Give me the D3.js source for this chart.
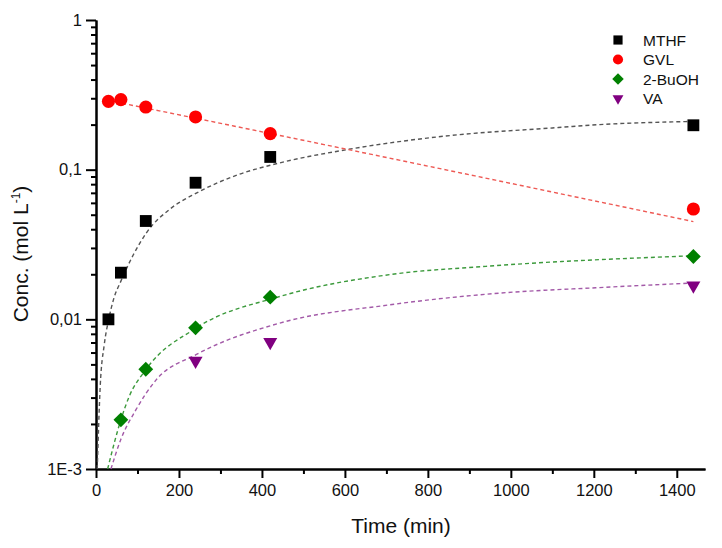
<!DOCTYPE html>
<html>
<head>
<meta charset="utf-8">
<script src="https://cdn.jsdelivr.net/npm/d3@7"></script>
<style>
  body { margin: 0; background: #fff; }
  svg { font-family: "Liberation Sans", Arial, sans-serif; }
</style>
</head>
<body>
<div id="viz"></div>
<script>
// measured points (time in min, conc in mol/L)
const mthfT = [30, 60, 120, 240, 420, 1440]
const mthfC = [0.0100, 0.0205, 0.0454, 0.0818, 0.1216, 0.198]
const gvlT = [30, 60, 120, 240, 420, 1440]
const gvlC = [0.286, 0.294, 0.262, 0.225, 0.174, 0.0546]
const buohT = [60, 120, 240, 420, 1440]
const buohC = [0.00213, 0.00464, 0.00877, 0.01407, 0.0263]
const vaT = [240, 420, 1440]
const vaC = [0.00528, 0.00704, 0.0168]

// fit curves
const mthfFitT = [3, 10, 20, 30, 42, 60, 90, 122, 180, 243, 340, 443, 604, 853, 1100, 1214, 1440]
const mthfFitC = [0.001, 0.0035, 0.0068, 0.0098, 0.0135, 0.018, 0.027, 0.038, 0.055, 0.070, 0.092, 0.111, 0.136, 0.169, 0.190, 0.200, 0.210]
const gvlFitT = [30, 371, 1440]
const gvlFitC = [0.29, 0.186, 0.045]
const buohFitT = [28, 60, 80, 120, 240, 443, 708, 940, 1440]
const buohFitC = [0.001, 0.00213, 0.00305, 0.0046, 0.0087, 0.0142, 0.0199, 0.0226, 0.0266]
const vaFitT = [36, 60, 96, 145, 241, 443, 708, 973, 1214, 1440]
const vaFitC = [0.001, 0.00158, 0.00248, 0.00394, 0.0058, 0.00944, 0.0125, 0.01497, 0.0163, 0.0175]

const legendNames = ['MTHF', 'GVL', '2-BuOH', 'VA']
const yTicks = [1e-3, 1e-2, 1e-1, 1]
const yTickLabels = ['1E-3', '0,01', '0,1', '1']
const xTicks = [0, 200, 400, 600, 800, 1000, 1200, 1400]

const width = 722, height = 548

const svg = d3.select('#viz').append('svg')
    .attr('width', width)
    .attr('height', height)

const x = d3.scaleLinear().domain([0, 1468]).range([96, 705])
const y = d3.scaleLog().domain([1e-3, 1]).range([469, 20])

// axes
const yMinor = []
for (let e = -3; e < 0; e++) for (let m = 2; m <= 9; m++) yMinor.push(m * Math.pow(10, e))
const xMinor = d3.range(100, 1468, 200)

const styleAxis = g => {
    g.select('.domain').attr('stroke', '#000').attr('stroke-width', 2)
    g.selectAll('.tick line').attr('stroke', '#000').attr('stroke-width', 2)
    g.selectAll('.tick text').attr('fill', '#111').style('font-size', '16.5px')
}

svg.append('g').attr('transform', `translate(96,0)`)
    .call(d3.axisLeft(y).tickValues(yMinor).tickSize(5).tickFormat('').tickSizeOuter(0))
    .call(styleAxis)
svg.append('g').attr('transform', `translate(96,0)`)
    .call(d3.axisLeft(y).tickValues(yTicks).tickSize(10).tickPadding(4).tickSizeOuter(0)
        .tickFormat((d, i) => yTickLabels[i]))
    .call(styleAxis)

svg.append('g').attr('transform', `translate(0,469)`)
    .call(d3.axisBottom(x).tickValues(xMinor).tickSize(5).tickFormat('').tickSizeOuter(0))
    .call(styleAxis)
svg.append('g').attr('transform', `translate(0,469)`)
    .call(d3.axisBottom(x).tickValues(xTicks).tickSize(9).tickPadding(6).tickSizeOuter(0)
        .tickFormat(d3.format('d')))
    .call(styleAxis)

// axis titles
svg.append('text')
    .attr('x', 401).attr('y', 533)
    .attr('text-anchor', 'middle')
    .attr('fill', '#111')
    .style('font-size', '21px')
    .text('Time (min)')

const yt = svg.append('text')
    .attr('transform', 'translate(28,254) rotate(-90)')
    .attr('text-anchor', 'middle')
    .attr('fill', '#111')
    .style('font-size', '21px')
yt.append('tspan').text('Conc. (mol L')
yt.append('tspan').attr('dy', -8).style('font-size', '12px').text('-1')
yt.append('tspan').attr('dy', 8).text(')')

// fit lines
const fits = [
    {t: mthfFitT, c: mthfFitC, color: '#555555'},
    {t: gvlFitT, c: gvlFitC, color: '#ee5a55'},
    {t: buohFitT, c: buohFitC, color: '#3c9a3c'},
    {t: vaFitT, c: vaFitC, color: '#a35aa8'}
]
const line = d3.line()
    .x(d => x(d[0]))
    .y(d => y(d[1]))
    .curve(d3.curveMonotoneX)

fits.forEach(f => {
    svg.append('path')
        .datum(f.t.map((t, i) => [t, f.c[i]]))
        .attr('d', line)
        .attr('fill', 'none')
        .attr('stroke', f.color)
        .attr('stroke-width', 1.4)
        .attr('stroke-dasharray', '4,3')
})

// markers
const series = [
    {t: mthfT, c: mthfC, color: '#000000', sym: d3.symbolSquare, size: 140},
    {t: gvlT, c: gvlC, color: '#ff0000', sym: d3.symbolCircle, size: 135},
    {t: buohT, c: buohC, color: '#008000', sym: d3.symbolDiamond2, size: 140},
    {t: vaT, c: vaC, color: '#800080', sym: d3.symbolTriangle, size: 85}
]
const symPath = s => d3.symbol().type(s.sym).size(s.size)()

series.forEach((s, k) => {
    svg.append('g').selectAll('path')
        .data(s.t.map((t, i) => [t, s.c[i]]))
        .enter()
        .append('path')
        .attr('d', symPath(s))
        .attr('transform', d => `translate(${x(d[0])},${y(d[1])})` + (k === 3 ? ' rotate(180)' : ''))
        .attr('fill', s.color)
})

// legend
const legend = svg.append('g').attr('transform', 'translate(618,40)')
series.forEach((s, i) => {
    const row = legend.append('g').attr('transform', `translate(0,${i * 19.5})`)
    row.append('path')
        .attr('d', d3.symbol().type(s.sym).size(s.size * 0.6)())
        .attr('transform', i === 3 ? 'rotate(180)' : null)
        .attr('fill', s.color)
    row.append('text')
        .attr('x', 25).attr('y', 5.5)
        .attr('fill', '#111')
        .style('font-size', '15.5px')
        .text(legendNames[i])
})
</script>
</body>
</html>
